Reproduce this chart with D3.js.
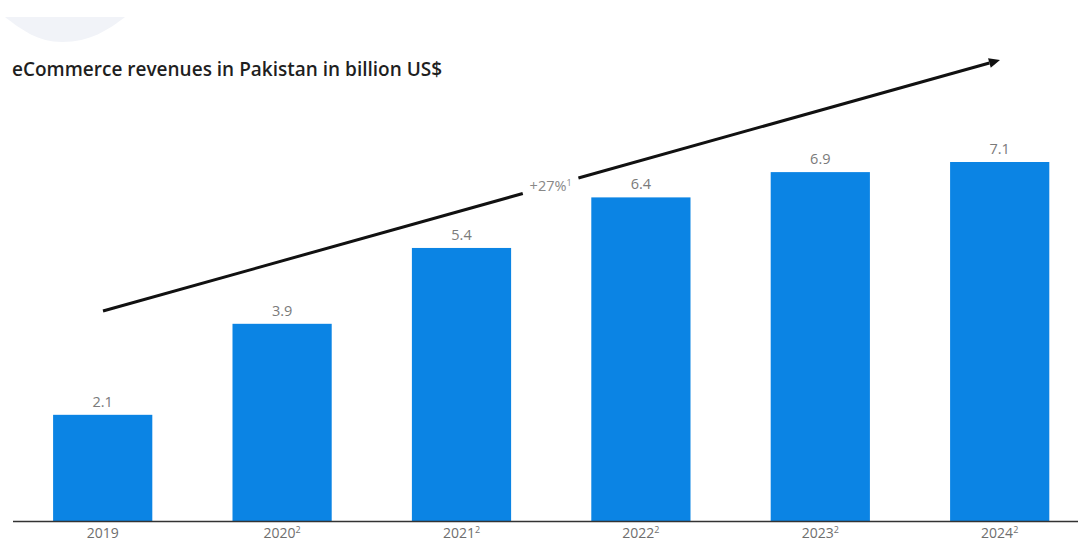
<!DOCTYPE html>
<html>
<head>
<meta charset="utf-8">
<script src="https://cdn.jsdelivr.net/npm/d3@7"></script>
<style>
  html, body { margin: 0; padding: 0; background: #fff; }
  svg { display: block; font-family: "Open Sans", "Noto Sans", sans-serif; }
</style>
</head>
<body>
<svg id="chart" width="1078" height="542"></svg>
<script>
// Revenue by year (billion US$); superscripts mark footnotes on the axis labels
const years = ["2019", "2020", "2021", "2022", "2023", "2024"];
const yearNotes = ["", "2", "2", "2", "2", "2"];
const revenues = [2.1, 3.9, 5.4, 6.4, 6.9, 7.1];
const growthLabel = "+27%";
const growthNote = "1";
const titleText = "eCommerce revenues in Pakistan in billion US$";

const svg = d3.select("#chart");
const baseY = 521;

const x = d3.scaleBand()
  .domain(years)
  .range([13, 1089.4])
  .paddingInner(0.447)
  .paddingOuter(0.2235);

const y = d3.scaleLinear()
  .domain([0, 7.1])
  .range([baseY, 162]);

// decorative tab in the top-left corner
svg.append("path")
  .attr("d", "M5,17 L125,17 C108,30 90,42 62,42 C38,42 22,30 5,17 Z")
  .attr("fill", "#f1f3f8");

// title
svg.append("text")
  .attr("x", 12)
  .attr("y", 76)
  .attr("font-size", 19)
  .attr("font-weight", 600)
  .attr("fill", "#1f1f1f")
  .text(titleText);

// bars
svg.selectAll("rect.bar")
  .data(revenues)
  .join("rect")
  .attr("class", "bar")
  .attr("x", (d, i) => x(years[i]))
  .attr("y", d => y(d))
  .attr("width", x.bandwidth())
  .attr("height", d => baseY - y(d))
  .attr("fill", "#0b84e4");

// value labels
svg.selectAll("text.val")
  .data(revenues)
  .join("text")
  .attr("class", "val")
  .attr("x", (d, i) => x(years[i]) + x.bandwidth() / 2)
  .attr("y", d => y(d) - 8)
  .attr("text-anchor", "middle")
  .attr("font-size", 14.5)
  .attr("fill", "#7a7a7a")
  .text(d => d.toFixed(1));

// x axis
const xAxis = d3.axisBottom(x).tickSize(0).tickPadding(0);
const gx = svg.append("g")
  .attr("transform", `translate(0,${baseY})`)
  .call(xAxis);
gx.select(".domain").remove();
gx.selectAll(".tick text")
  .attr("y", 16.5)
  .attr("dy", 0)
  .attr("font-size", 14)
  .attr("fill", "#6e6e6e")
  .attr("font-family", "'Open Sans', 'Noto Sans', sans-serif")
  .each(function(d, i) {
    const t = d3.select(this);
    t.text(d);
    if (yearNotes[i]) {
      t.append("tspan")
        .attr("font-size", 9)
        .attr("dy", -5)
        .text(yearNotes[i]);
    }
  });
svg.append("line")
  .attr("x1", 13).attr("x2", 1078)
  .attr("y1", baseY + 0.5).attr("y2", baseY + 0.5)
  .attr("stroke", "#333")
  .attr("stroke-width", 1.5);

// growth arrow with a gap for its label
const a0 = [103, 311], a1 = [1000, 60];
const gapStart = 0.468, gapEnd = 0.530;
const lerp = t => [a0[0] + (a1[0] - a0[0]) * t, a0[1] + (a1[1] - a0[1]) * t];
const p1 = lerp(gapStart), p2 = lerp(gapEnd);
const ang = Math.atan2(a1[1] - a0[1], a1[0] - a0[0]);
const headLen = 11, headW = 5;
const tip = a1;
const back = [tip[0] - headLen * Math.cos(ang), tip[1] - headLen * Math.sin(ang)];

svg.append("line")
  .attr("x1", a0[0]).attr("y1", a0[1])
  .attr("x2", p1[0]).attr("y2", p1[1])
  .attr("stroke", "#111").attr("stroke-width", 3);
svg.append("line")
  .attr("x1", p2[0]).attr("y1", p2[1])
  .attr("x2", back[0]).attr("y2", back[1])
  .attr("stroke", "#111").attr("stroke-width", 3);
svg.append("path")
  .attr("d", d3.line()([
    tip,
    [back[0] + headW * Math.sin(ang), back[1] - headW * Math.cos(ang)],
    [back[0] - headW * Math.sin(ang), back[1] + headW * Math.cos(ang)]
  ]) + "Z")
  .attr("fill", "#111");

const mid = lerp((gapStart + gapEnd) / 2);
const gl = svg.append("text")
  .attr("x", mid[0])
  .attr("y", mid[1] + 5)
  .attr("text-anchor", "middle")
  .attr("font-size", 14.5)
  .attr("fill", "#888")
  .text(growthLabel);
gl.append("tspan")
  .attr("font-size", 9)
  .attr("dy", -5)
  .text(growthNote);
</script>
</body>
</html>
